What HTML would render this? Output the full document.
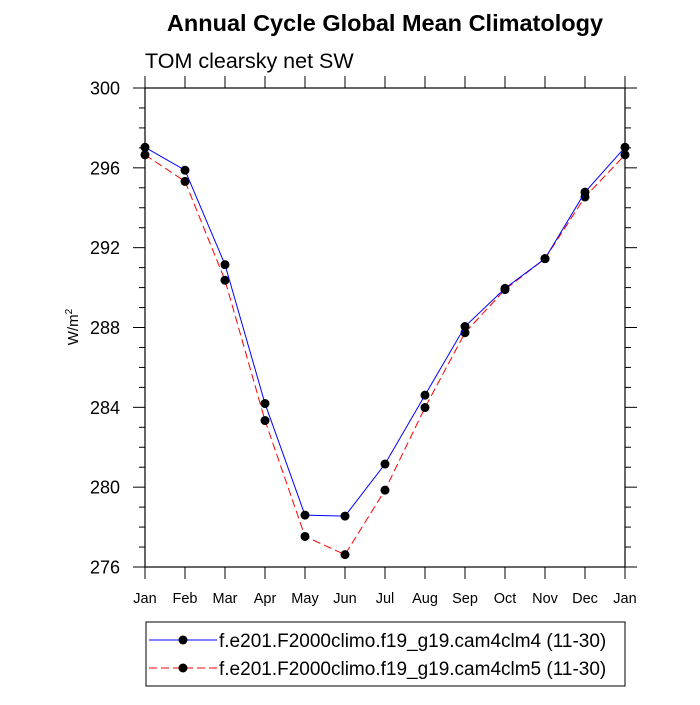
<!DOCTYPE html>
<html><head><meta charset="utf-8"><style>
body{margin:0;background:#fff;}
text{font-family:"Liberation Sans",sans-serif;}
</style></head><body>
<svg id="chart" width="700" height="700" xmlns="http://www.w3.org/2000/svg">
<text x="385" y="31" text-anchor="middle" font-size="23.5" font-weight="bold">Annual Cycle Global Mean Climatology</text>
<text x="145" y="68" font-size="21.5">TOM clearsky net SW</text>
<text transform="translate(78,327) rotate(-90)" text-anchor="middle" font-size="15">W/m<tspan dy="-6" font-size="10">2</tspan></text>
<rect x="145" y="88" width="480" height="479" fill="none" stroke="#000" stroke-width="1.2"/>
<g id="axes"></g>
<g id="series"></g>
<g>
<rect x="146" y="622" width="479" height="64" fill="none" stroke="#000" stroke-width="1"/>
<g>
<line x1="149" y1="640" x2="217" y2="640" stroke="#0000ff" stroke-width="1"/>
<circle cx="183" cy="640" r="4.5" fill="#000"/>
<text x="219" y="647" font-size="19">f.e201.F2000climo.f19_g19.cam4clm4 (11-30)</text>
</g>
<g>
<line x1="149" y1="668" x2="217" y2="668" stroke="#ff0000" stroke-width="1" stroke-dasharray="8,4"/>
<circle cx="183" cy="668" r="4.5" fill="#000"/>
<text x="219" y="675" font-size="19">f.e201.F2000climo.f19_g19.cam4clm5 (11-30)</text>
</g>
</g>
</svg>
<script>
const months = ["Jan","Feb","Mar","Apr","May","Jun","Jul","Aug","Sep","Oct","Nov","Dec","Jan"];
const clm4 = [297.03,295.88,291.15,284.19,278.6,278.55,281.16,284.61,288.05,289.96,291.45,294.78,297.03];
const clm5 = [296.65,295.32,290.37,283.34,277.53,276.62,279.85,283.99,287.74,289.9,291.45,294.54,296.65];
const yTicks = [276,280,284,288,292,296,300];
const NS="http://www.w3.org/2000/svg";
const L=145,R=625,T=88,B=567,yMin=276,yMax=300;
const xs=i=>L+(R-L)*i/(months.length-1);
const ys=v=>B-(B-T)*(v-yMin)/(yMax-yMin);
function mk(tag,attrs,parent){const e=document.createElementNS(NS,tag);for(const k in attrs)e.setAttribute(k,attrs[k]);parent.appendChild(e);return e;}
const ax=document.getElementById('axes');
months.forEach((m,i)=>{
  const x=xs(i);
  mk('line',{x1:x,y1:B,x2:x,y2:B+12,stroke:'#000'},ax);
  mk('line',{x1:x,y1:T,x2:x,y2:T-12,stroke:'#000'},ax);
  const t=mk('text',{x:x,y:B+36,'text-anchor':'middle','font-size':14.5},ax);
  t.textContent=m;
  
  
});
for(let v=yMin;v<=yMax;v++){
  const y=ys(v),maj=(v%4===0),len=maj?12:6;
  mk('line',{x1:L,y1:y,x2:L-len,y2:y,stroke:'#000'},ax);
  mk('line',{x1:R,y1:y,x2:R+len,y2:y,stroke:'#000'},ax);
}
yTicks.forEach(v=>{
  const t=mk('text',{x:120,y:ys(v)+6.5,'text-anchor':'end','font-size':18},ax);
  t.textContent=v;
  
  
});
const sg=document.getElementById('series');
function draw(vals,color,dash,name){
  const g=mk('g',{},sg);
  
  
  const p=mk('polyline',{points:vals.map((v,i)=>xs(i)+','+ys(v)).join(' '),fill:'none',stroke:color,'stroke-width':1,'stroke-dasharray':dash},g);
  
  
  vals.forEach((v,i)=>{
    const c=mk('circle',{cx:xs(i),cy:ys(v),r:4.5,fill:'#000'},g);
    
    
  });
}
draw(clm5,'#ff0000','8,4','series-clm5');
draw(clm4,'#0000ff','none','series-clm4');
</script>
</body></html>
